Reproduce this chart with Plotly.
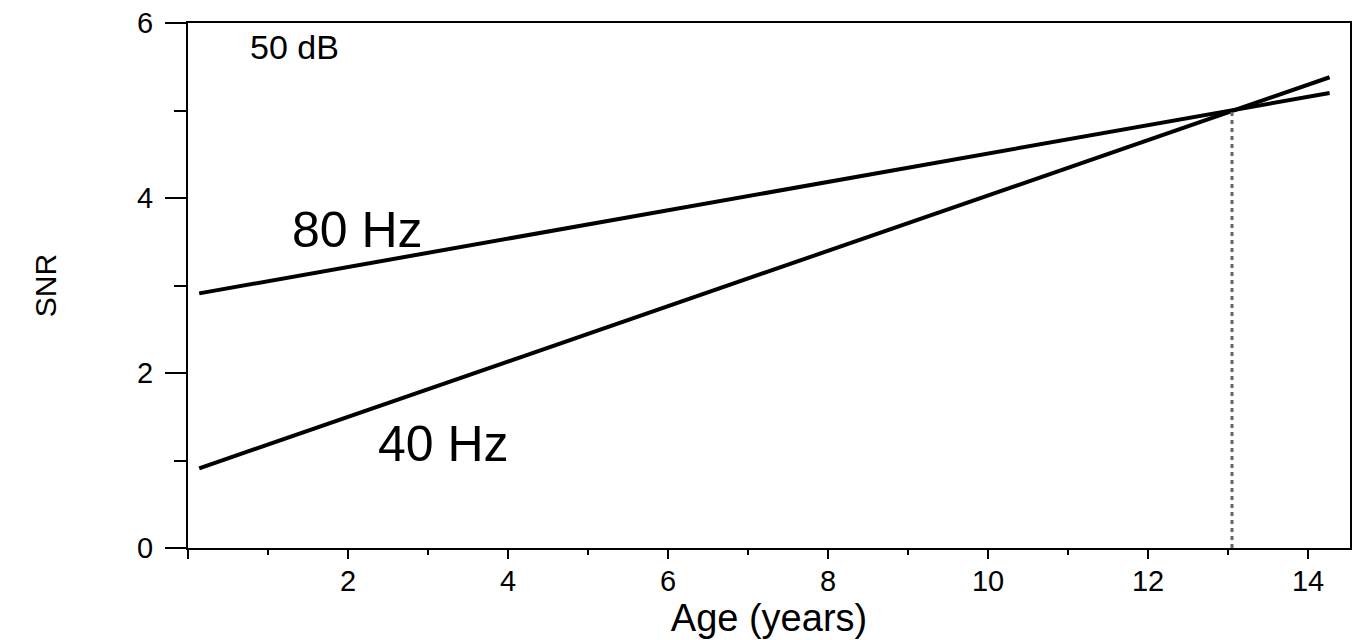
import plotly.graph_objects as go

########
# Data #
########

# fitted SNR vs age, read at the two ends of each regression line
AGE_ENDS = [0.14, 14.27]
SNR_80HZ = [2.91, 5.20]
SNR_40HZ = [0.91, 5.38]

# age where the two lines cross, marked with a dotted drop line
CROSS_AGE = [13.05, 13.05]
CROSS_SNR = [0.0, 5.02]

X_TICKS = [0, 2, 4, 6, 8, 10, 12, 14]
X_TICK_TEXT = ["", "2", "4", "6", "8", "10", "12", "14"]
Y_TICKS = [0, 2, 4, 6]

##########
# Styles #
##########

FONT = "Liberation Sans, Arial, sans-serif"
LINE_STYLE = {"color": "black", "width": 4}

AXIS_BASE_CONFIG = {
    "showgrid": False,
    "zeroline": False,
    "showline": True,
    "linecolor": "black",
    "linewidth": 2,
    "mirror": True,
    "automargin": False,
    "ticks": "outside",
    "tickcolor": "black",
    "tickwidth": 2,
    "tickfont": {"family": FONT, "size": 29, "color": "black"},
}

##########
# Figure #
##########

fig = go.Figure()

fig.add_trace(go.Scatter(x=AGE_ENDS, y=SNR_80HZ, mode="lines", line=LINE_STYLE, name="80 Hz"))
fig.add_trace(go.Scatter(x=AGE_ENDS, y=SNR_40HZ, mode="lines", line=LINE_STYLE, name="40 Hz"))
fig.add_trace(
    go.Scatter(
        x=CROSS_AGE,
        y=CROSS_SNR,
        mode="lines",
        line={"color": "#666666", "width": 3, "dash": "4px,4px"},
        name="crossing",
    )
)

fig.add_annotation(x=2.12, y=3.63, text="80 Hz", showarrow=False,
                   font={"family": FONT, "size": 50, "color": "black"})
fig.add_annotation(x=3.19, y=1.19, text="40 Hz", showarrow=False,
                   font={"family": FONT, "size": 50, "color": "black"})
fig.add_annotation(x=1.33, y=5.73, text="50 dB", showarrow=False,
                   font={"family": FONT, "size": 34, "color": "black"})

fig.update_xaxes(
    **AXIS_BASE_CONFIG,
    range=[0, 14.525],
    tickvals=X_TICKS,
    ticktext=X_TICK_TEXT,
    ticklen=9,
    ticklabelstandoff=-3,
    minor={"dtick": 1, "tick0": 0, "ticks": "outside", "ticklen": 5, "tickwidth": 2, "tickcolor": "black"},
    title={"text": "Age (years)", "font": {"family": FONT, "size": 38, "color": "black"}, "standoff": 0},
)

fig.update_yaxes(
    **AXIS_BASE_CONFIG,
    range=[0, 6],
    tickvals=Y_TICKS,
    ticklen=21,
    ticklabelstandoff=6,
    minor={"dtick": 1, "tick0": 0, "ticks": "outside", "ticklen": 12, "tickwidth": 2, "tickcolor": "black"},
    title={"text": "SNR", "font": {"family": FONT, "size": 30, "color": "black"}, "standoff": 72},
)

fig.update_layout(
    width=1352,
    height=640,
    margin={"l": 188, "r": 2, "t": 23, "b": 92},
    plot_bgcolor="white",
    paper_bgcolor="white",
    showlegend=False,
)

# drop the browser's default page margin so the figure fills the window exactly
fig.write_html(
    "out.html",
    config={"displayModeBar": False},
    post_script="document.body.style.margin = '0';",
)
